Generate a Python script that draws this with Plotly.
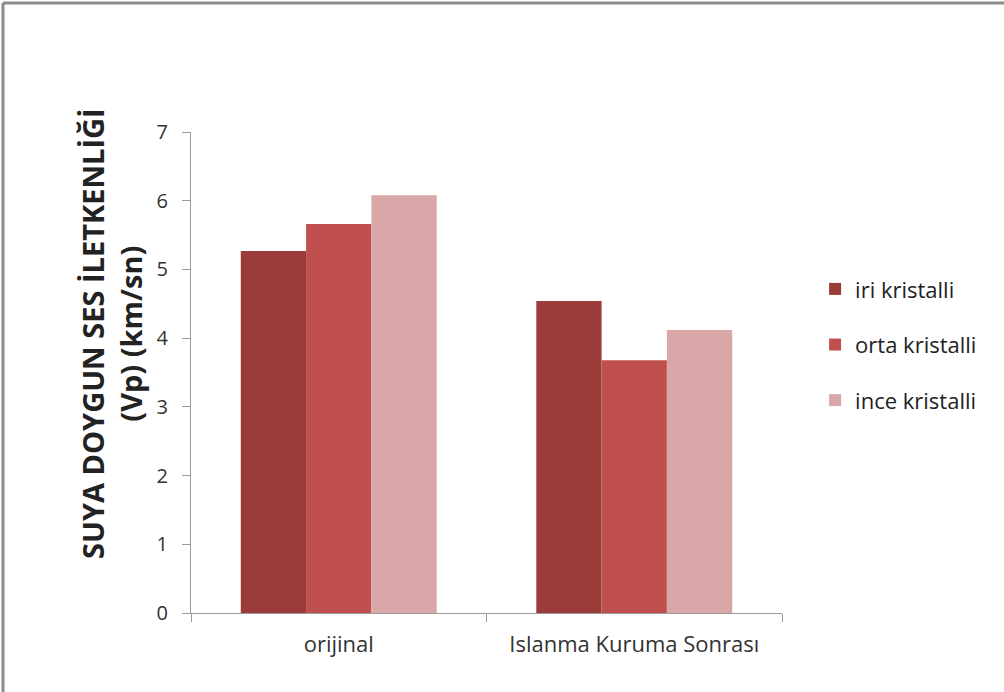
import plotly.graph_objects as go

categories = ["orijinal", "Islanma Kuruma Sonrası"]
series_names = ["iri kristalli", "orta kristalli", "ince kristalli"]
iri = [5.27, 4.54]
orta = [5.66, 3.68]
ince = [6.08, 4.12]
colors = ["#9b3c3b", "#c0504d", "#d9a7a7"]
y_title = "<b>SUYA DOYGUN SES İLETKENLİĞİ<br>(Vp) (km/sn)</b>"

W, H = 1004, 692
L, R, T, B = 191, 222, 132, 79
pw, ph = W - L - R, H - T - B

fig = go.Figure()
for i, (name, vals) in enumerate(zip(series_names, [iri, orta, ince])):
    fig.add_trace(go.Bar(
        x=categories, y=vals, name=name, legendgroup=f"g{i}",
        marker=dict(color=colors[i], line=dict(width=0)),
    ))

# thin gray frame on the left and top edges of the picture
fx0 = (3 - L) / pw
fy1 = (H - 3 - B) / ph
fig.add_shape(type="line", xref="paper", yref="paper", x0=fx0, x1=fx0, y0=-B / ph, y1=fy1,
              line=dict(color="#8c8c8c", width=3))
fig.add_shape(type="line", xref="paper", yref="paper", x0=fx0, x1=(W - L) / pw, y0=fy1, y1=fy1,
              line=dict(color="#8c8c8c", width=3))

# y title as a rotated annotation, sitting a bit above the plot's middle like the original
fig.add_annotation(text=y_title, textangle=-90, xref="paper", yref="paper",
                   x=(111 - L) / pw, y=(H - B - 334) / ph, xanchor="center", yanchor="middle",
                   showarrow=False, font=dict(size=29, color="#222222"))

fig.update_layout(
    width=W, height=H,
    margin=dict(l=L, r=R, t=T, b=B, autoexpand=False),
    paper_bgcolor="white", plot_bgcolor="white",
    barmode="group", bargap=0.337, bargroupgap=0,
    font=dict(family="Open Sans, Noto Sans, sans-serif", size=20, color="#333333"),
    showlegend=True,
    legend=dict(x=1.056, y=0.717, xanchor="left", yanchor="top", tracegroupgap=24,
                font=dict(size=22, color="#222222"), itemwidth=30),
    xaxis=dict(showline=True, linecolor="#9a9a9a", linewidth=1, ticks="outside",
               tickson="boundaries", ticklen=8, tickcolor="#9a9a9a", ticklabelstandoff=12,
               tickfont=dict(size=22, color="#333333"), showgrid=False),
    yaxis=dict(range=[0, 7], dtick=1, showline=True, linecolor="#9a9a9a", linewidth=1,
               ticks="outside", ticklen=8, tickcolor="#9a9a9a", showgrid=False,
               ticklabelstandoff=10, zeroline=False, tickfont=dict(size=20, color="#333333")),
)

fig.write_html("out.html", config={"displayModeBar": False},
               post_script="document.body.style.margin='0';")
